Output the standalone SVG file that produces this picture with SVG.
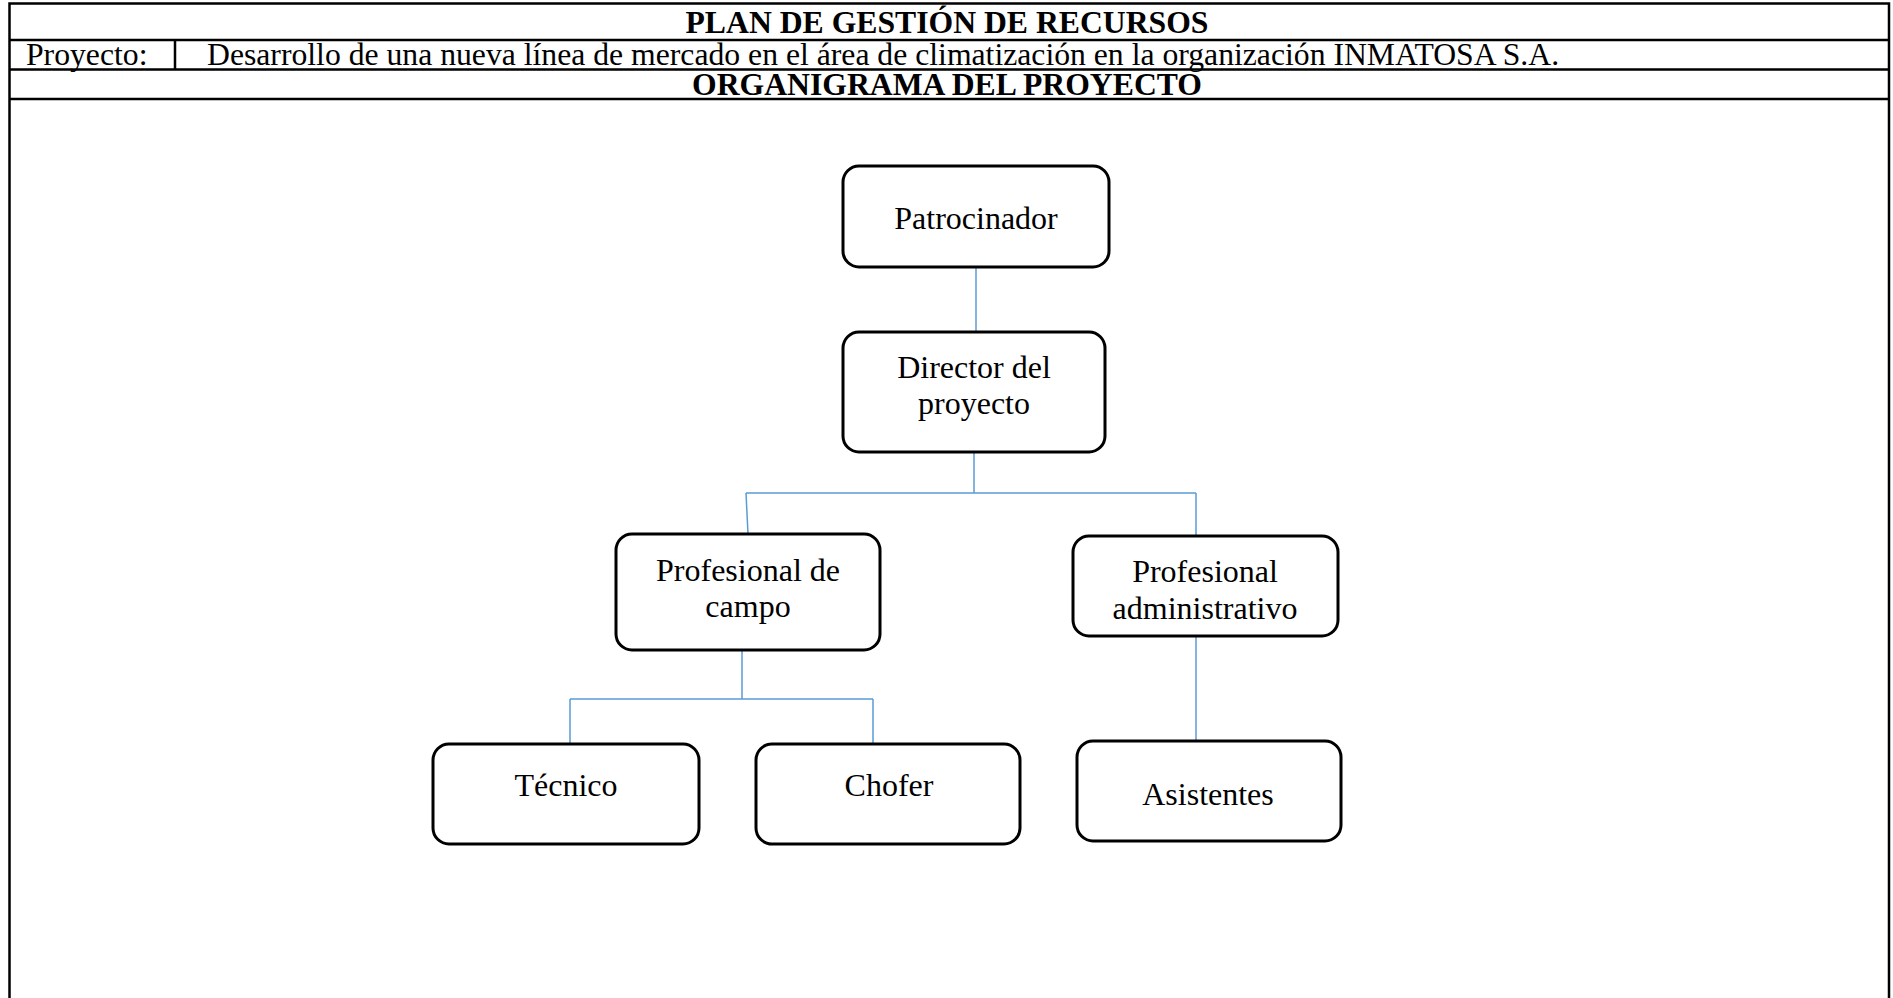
<svg xmlns="http://www.w3.org/2000/svg" width="1893" height="998" viewBox="0 0 1893 998">
<style>
.frame{stroke:#000;stroke-width:2.5;fill:none}
.box{fill:#fff;stroke:#000;stroke-width:3}
.t{font-family:"Liberation Serif","Times New Roman",serif;font-size:32px;fill:#000;text-anchor:middle}
.h{font-family:"Liberation Serif","Times New Roman",serif;font-size:31.7px;fill:#000}
.b{font-weight:bold;text-anchor:middle}
.c{stroke:#5B9BD5;stroke-width:1.5;fill:none}
</style>
<rect width="1893" height="998" fill="#fff"/>
<g id="table">
<path class="frame" d="M9.5,3.5 H1889 M9.5,40 H1889 M9.5,69.5 H1889 M9.5,99 H1889 M9.5,2.25 V998 M1889,2.25 V998 M175,40 V69.5"/>
<text class="h b" x="947" y="33">PLAN DE GESTIÓN DE RECURSOS</text>
<text class="h" x="26" y="64.5">Proyecto:</text>
<text class="h" x="207" y="64.5">Desarrollo de una nueva línea de mercado en el área de climatización en la organización INMATOSA S.A.</text>
<text class="h b" x="947" y="94.5">ORGANIGRAMA DEL PROYECTO</text>
</g>
<g id="connectors">
<path class="c" d="M976,267 V332"/>
<path class="c" d="M974,452 V493 M746,493 H1196 M746,493 L748,534 M1196,493 V536"/>
<path class="c" d="M742,650 V699 M570,699 H873 M570,699 V744 M873,699 V744"/>
<path class="c" d="M1196,636 V741"/>
</g>
<g id="patrocinador">
<rect class="box" x="843" y="166" width="266" height="101" rx="16"/>
<text class="t" x="976" y="229">Patrocinador</text>
</g>
<g id="director">
<rect class="box" x="843" y="332" width="262" height="120" rx="16"/>
<text class="t" x="974" y="378">Director del</text>
<text class="t" x="974" y="414">proyecto</text>
</g>
<g id="prof-campo">
<rect class="box" x="616" y="534" width="264" height="116" rx="16"/>
<text class="t" x="748" y="581">Profesional de</text>
<text class="t" x="748" y="617">campo</text>
</g>
<g id="prof-admin">
<rect class="box" x="1073" y="536" width="265" height="100" rx="16"/>
<text class="t" x="1205" y="582">Profesional</text>
<text class="t" x="1205" y="619">administrativo</text>
</g>
<g id="tecnico">
<rect class="box" x="433" y="744" width="266" height="100" rx="16"/>
<text class="t" x="566" y="796">Técnico</text>
</g>
<g id="chofer">
<rect class="box" x="756" y="744" width="264" height="100" rx="16"/>
<text class="t" x="889" y="796">Chofer</text>
</g>
<g id="asistentes">
<rect class="box" x="1077" y="741" width="264" height="100" rx="16"/>
<text class="t" x="1208" y="805">Asistentes</text>
</g>
</svg>
